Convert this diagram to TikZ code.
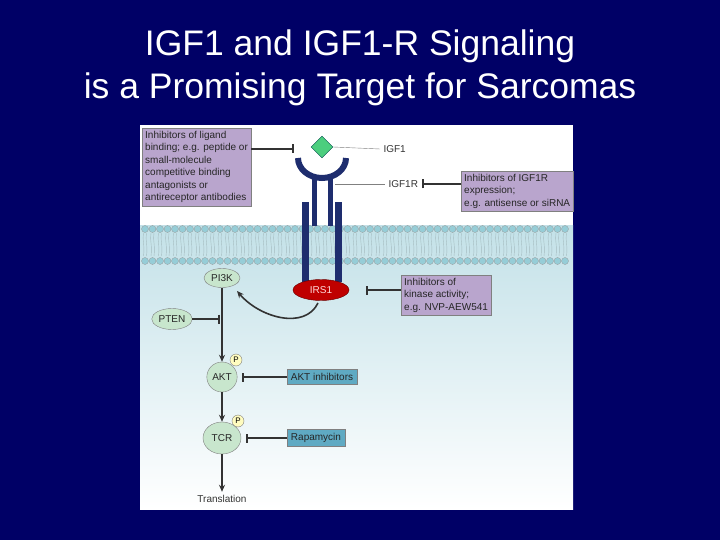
\documentclass[tikz,border=0pt]{standalone}
\usepackage{fontspec}
\setmainfont{Liberation Sans}
\usetikzlibrary{arrows.meta,shapes.geometric}
\definecolor{navy}{RGB}{0,0,102}
\definecolor{rec}{RGB}{30,45,110}
\definecolor{pbox}{RGB}{185,165,205}
\definecolor{bbox}{RGB}{95,170,195}
\definecolor{gnode}{RGB}{200,230,205}
\definecolor{head}{RGB}{150,205,215}
\tikzset{
  lbl/.style={font=\fontsize{10}{12}\selectfont,text=black!80},
  purp/.style={draw=black!50,fill=pbox,font=\fontsize{10}{12.5}\selectfont,align=left,inner sep=3pt,anchor=north west,text=black!85},
  blu/.style={draw=black!50,fill=bbox,font=\fontsize{10}{12}\selectfont,inner sep=4pt,text=black!85},
  gn/.style={ellipse,draw=black!50,fill=gnode,font=\fontsize{10}{12}\selectfont,inner sep=1pt,text=black!85},
  pn/.style={circle,draw=black!50,fill=yellow!25,font=\fontsize{8}{9}\selectfont,inner sep=0.5pt,minimum size=12pt},
  inh/.style={-{Bar[width=9pt]},line width=1.6pt,black!80},
  act/.style={-{Stealth[length=7pt,width=6pt]},line width=1.6pt,black!80},
}
\begin{document}
\begin{tikzpicture}[x=1pt,y=-1pt]
\fill[navy] (0,0) rectangle (720,540);
\useasboundingbox (0,0) rectangle (720,540);
\node[text=white,font=\fontsize{35.5}{43}\selectfont,align=center] (title) at (360,68) {IGF1 and IGF1-R Signaling\\is a Promising Target for Sarcomas};
% panel
\fill[white] (140,125) rectangle (573,509);
\shade[top color={rgb,255:red,195;green,225;blue,232},bottom color=white] (140,226) rectangle (573,509);
% membrane
\foreach \x in {145,152.5,...,570} {
  \draw[head!70!black!60,line width=0.4pt] (\x-1.5,233) .. controls (\x-3,240) and (\x,245) .. (\x-1.5,256);
  \draw[head!70!black!60,line width=0.4pt] (\x+1.5,233) .. controls (\x,240) and (\x+3,245) .. (\x+1.5,256);
  \fill[head] (\x,229) circle (3.5); \draw[black!40,line width=0.3pt] (\x,229) circle (3.5);
  \fill[head] (\x,261) circle (3.5); \draw[black!40,line width=0.3pt] (\x,261) circle (3.5);
}
% receptor
\fill[rec] (302,202) rectangle (309,282);
\fill[rec] (335,202) rectangle (342,282);
\fill[rec] (312,178) rectangle (317,226);
\fill[rec] (328,178) rectangle (333,226);
\draw[rec,line width=6pt] (298,158) arc[start angle=180,end angle=0,x radius=24,y radius=20];
\node[diamond,fill=green!45!teal!70,draw=teal!60!black,minimum size=22pt,inner sep=0] (igf) at (322,147) {};
\node[lbl,anchor=west] (igf1) at (380,149) {IGF1};
\draw[black!50] (igf.east) -- (igf1.west);
\node[lbl,anchor=west] (igf1r) at (385,184) {IGF1R};
\coordinate (rr) at (335,184);
\draw[black!50] (rr) -- (igf1r.west);
% IRS1
\node[ellipse,fill=red!75!black,draw=red!40!black,minimum width=56pt,minimum height=21pt,inner sep=0,text=white!85!red,font=\fontsize{10}{12}\selectfont] (irs) at (321,290) {IRS1};
% boxes
\node[purp] (lig) at (142,128) {Inhibitors of ligand\\binding; e.g. peptide or\\small-molecule\\competitive binding\\antagonists or\\antireceptor antibodies};
\coordinate (ligT) at (294,149);
\draw[inh] (lig.east|-ligT) -- (ligT);
\node[purp] (expr) at (461,171) {Inhibitors of IGF1R\\expression;\\e.g. antisense or siRNA};
\coordinate (exT) at (422,184);
\draw[inh] (expr.west|-exT) -- (exT);
\node[purp] (kin) at (401,275) {Inhibitors of\\kinase activity;\\e.g. NVP-AEW541};
\coordinate (kT) at (366,290);
\draw[inh] (kin.west|-kT) -- (kT);
% pathway
\node[gn,minimum width=36pt,minimum height=19pt] (pi3k) at (222,278) {PI3K};
\node[gn,minimum width=40pt,minimum height=21pt] (pten) at (172,319) {PTEN};
\node[gn,minimum width=28pt,minimum height=30pt] (akt) at (222,377) {AKT};
\node[pn] (p1) at (236,360) {P};
\node[gn,minimum width=38pt,minimum height=32pt] (tcr) at (222,438) {TCR};
\node[pn] (p2) at (238,421) {P};
\node[lbl] (tr) at (222,499) {Translation};
\draw[act] (pi3k.south) -- (akt.north);
\coordinate (pj) at (220,319);
\draw[inh] (pten.east) -- (pj);
\draw[act] (akt.south) -- (tcr.north);
\draw[act] (tcr.south) -- (tr.north);
\draw[act] (318,303) .. controls (305,330) and (260,318) .. (237,291);
\node[blu] (aktinh) at (322,377) {AKT inhibitors};
\draw[inh] (aktinh.west) -- ([xshift=5pt]akt.east);
\node[blu] (rapa) at (316,438) {Rapamycin};
\draw[inh] (rapa.west) -- ([xshift=5pt]tcr.east);
\end{tikzpicture}
\end{document}
